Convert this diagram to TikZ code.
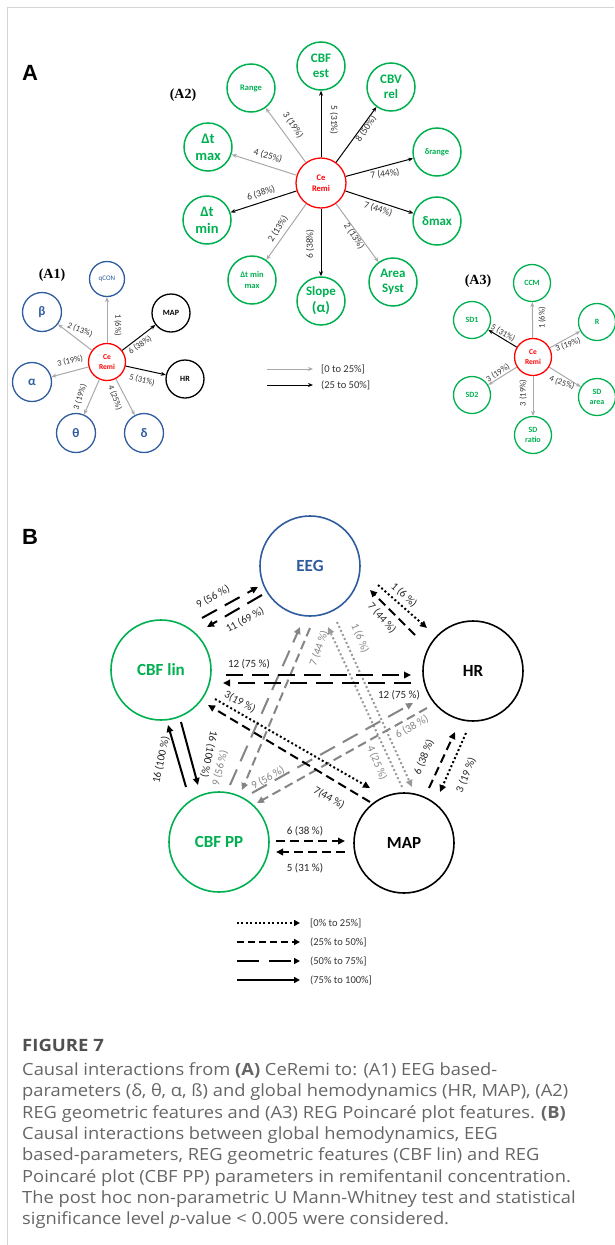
\documentclass[tikz,border=0pt]{standalone}
\usepackage{fontspec}
\setmainfont{Carlito}
\newfontfamily\capfont[FakeStretch=1.09]{Open Sans}
\newfontfamily\serfont{Liberation Serif}
\newfontfamily\hdfont{Liberation Sans}
\usetikzlibrary{arrows.meta,calc}
\definecolor{cgreen}{HTML}{00B050}
\definecolor{cred}{HTML}{FF0000}
\definecolor{cblue}{HTML}{2E5C9E}
\definecolor{agray}{HTML}{A9A9A9}
\definecolor{bgray}{HTML}{858585}
\definecolor{dgray}{HTML}{9A9A9A}
\definecolor{captxt}{HTML}{666666}
\definecolor{capttl}{HTML}{505050}
\definecolor{framec}{HTML}{D4D4D4}
\newcommand{\fsz}[1]{\fontsize{#1}{#1}\selectfont}
\tikzset{
  every node/.style={inner sep=0pt},
  remiA/.style={circle,draw=cred,line width=1.3pt,text=cred,font=\bfseries\fontsize{8.5}{10.5}\selectfont,align=center,minimum size=50pt},
  remiS/.style={circle,draw=cred,line width=1.3pt,text=cred,font=\bfseries\fontsize{7.5}{9.5}\selectfont,align=center,minimum size=37pt},
  gtwo/.style={circle,draw=cgreen,line width=1.5pt,minimum size=48pt,text=cgreen,font=\bfseries\fontsize{13}{15.5}\selectfont,align=center},
  gthree/.style={circle,draw=cgreen,line width=1.3pt,minimum size=37pt,text=cgreen,font=\bfseries\fontsize{8}{10}\selectfont,align=center},
  bone/.style={circle,draw=cblue,line width=1.3pt,minimum size=39pt,text=cblue,font=\bfseries\fsz{13}},
  kone/.style={circle,draw=black,line width=1.3pt,minimum size=38pt,text=black,font=\bfseries\fsz{8}},
  aab/.style={-{Stealth[length=5pt,width=4pt]},line width=1pt,draw=black},
  aag/.style={-{Stealth[length=5pt,width=4pt]},line width=1pt,draw=agray},
  lab/.style={font=\fsz{8.5},text=black!80},
  bn/.style={circle,draw=black,line width=1.6pt,minimum size=100pt,font=\bfseries\fsz{17}},
  bar/.style={-{Triangle[length=7pt,width=6.5pt]},line width=2pt},
  dotb/.style={dash pattern=on 2pt off 2.4pt},
  dsh/.style={dash pattern=on 9pt off 5pt},
  ldsh/.style={dash pattern=on 17pt off 9pt},
  blab/.style={font=\fsz{11},text=black!85},
  glab/.style={font=\fsz{11},text=bgray},
  ltxt/.style={font=\fsz{10.5},text=black!80,anchor=west},
  captext/.style={font=\capfont\fsz{16.8},text=captxt,anchor=base west}
}
\begin{document}
\begin{tikzpicture}[x=1pt,y=-1pt]
\useasboundingbox (0,0) rectangle (614,1245);
\draw[framec,line width=1pt] (7,1245) -- (7,7) -- (614,7);

% ---------- Panel A ----------
\node[font=\hdfont\bfseries\fsz{22}] (labA) at (30,73) {A};
\node[font=\serfont\bfseries\fsz{14}] (labA2) at (183,95) {(A2)};
\node[font=\serfont\bfseries\fsz{14}] (labA1) at (52,275) {(A1)};
\node[font=\serfont\bfseries\fsz{14}] (labA3) at (478,281) {(A3)};

% A2
\node[remiA] (c2) at (321,183) {Ce\\Remi};
\node[gtwo] (cbfest) at (321,66) {CBF\\est};
\node[gtwo,font=\bfseries\fsz{8.5}] (range) at (251,88) {Range};
\node[gtwo] (cbvrel) at (391,87) {CBV\\rel};
\node[gtwo,font=\bfseries\fsz{8.5}] (drange) at (437,152) {δrange};
\node[gtwo] (dmax) at (437,221) {δmax};
\node[gtwo] (area) at (393,282) {Area\\Syst};
\node[gtwo,font=\bfseries\fontsize{13}{17}\selectfont] (slope) at (321,301) {Slope\\\fsz{15}(α)};
\node[gtwo,font=\bfseries\fontsize{8.5}{11.5}\selectfont] (dtmm) at (252,280) {Δt min\\max};
\node[gtwo,font=\bfseries\fontsize{14.5}{17}\selectfont] (dtmin) at (207,220) {Δt\\min};
\node[gtwo,font=\bfseries\fontsize{14.5}{17}\selectfont] (dtmax) at (208,147) {Δt\\max};

\draw[aab] (c2) -- (cbfest);
\draw[aag] (c2) -- (range);
\draw[aab] (c2) -- (cbvrel);
\draw[aab] (c2) -- (drange);
\draw[aab] (c2) -- (dmax);
\draw[aag] (c2) -- (area);
\draw[aab] (c2) -- (slope);
\draw[aag] (c2) -- (dtmm);
\draw[aab] (c2) -- (dtmin);
\draw[aag] (c2) -- (dtmax);

\node[lab,font=\fsz{9.5},rotate=-90] (l2a) at (334,120) {5 (31\%)};
\node[lab,font=\fsz{9.5},rotate=-57] (l2b) at (293,125) {3 (19\%)};
\node[lab,font=\fsz{9.5},rotate=56] (l2c) at (366,129) {8 (50\%)};
\node[lab,font=\fsz{9.5},rotate=-16] (l2d) at (268,156) {4 (25\%)};
\node[lab,font=\fsz{9.5},rotate=8] (l2e) at (385,174) {7 (44\%)};
\node[lab,font=\fsz{9.5},rotate=-18] (l2f) at (378,209) {7 (44\%)};
\node[lab,font=\fsz{9.5},rotate=18] (l2g) at (261,193) {6 (38\%)};
\node[lab,font=\fsz{9.5},rotate=58] (l2h) at (278,229) {2 (13\%)};
\node[lab,font=\fsz{9.5},rotate=90] (l2i) at (310,244) {6 (38\%)};
\node[lab,font=\fsz{9.5},rotate=-57] (l2j) at (354,236) {2 (13\%)};

% A1
\node[remiS] (c1) at (107,362) {Ce\\Remi};
\node[bone,minimum size=35pt,font=\fsz{7}] (qcon) at (107,279) {qCON};
\node[bone] (beta) at (42,312) {β};
\node[bone] (alpha) at (32,382) {α};
\node[bone] (theta) at (76,433) {θ};
\node[bone] (delta) at (144,433) {δ};
\node[kone] (map1) at (171,313) {MAP};
\node[kone] (hr1) at (185,379) {HR};

\draw[aag] (c1) -- (qcon);
\draw[aag] (c1) -- (beta);
\draw[aag] (c1) -- (alpha);
\draw[aag] (c1) -- (theta);
\draw[aag] (c1) -- (delta);
\draw[aab] (c1) -- (map1);
\draw[aab] (c1) -- (hr1);

\node[lab,rotate=-90] (l1a) at (118,325) {1 (6\%)};
\node[lab,rotate=-22] (l1b) at (80,330) {2 (13\%)};
\node[lab,rotate=12] (l1c) at (70,361) {3 (19\%)};
\node[lab,rotate=72] (l1d) at (80,397) {3 (19\%)};
\node[lab,rotate=-70] (l1e) at (115,398) {4 (25\%)};
\node[lab,rotate=35] (l1f) at (140,345) {6 (38\%)};
\node[lab,rotate=-15] (l1g) at (142,380) {5 (31\%)};

% A3
\node[remiS] (c3) at (533,357) {Ce\\Remi};
\node[gthree] (ccm) at (532,283) {CCM};
\node[gthree] (sd1) at (472,320) {SD1};
\node[gthree] (rr) at (597,322) {R};
\node[gthree] (sd2) at (472,395) {SD2};
\node[gthree] (sdarea) at (597,397) {SD\\area};
\node[gthree] (sdratio) at (533,435) {SD\\ratio};

\draw[aag] (c3) -- (ccm);
\draw[aab] (c3) -- (sd1);
\draw[aag] (c3) -- (rr);
\draw[aag] (c3) -- (sd2);
\draw[aag] (c3) -- (sdarea);
\draw[aag] (c3) -- (sdratio);

\node[lab,rotate=90] (l3a) at (542,318) {1 (6\%)};
\node[lab,rotate=-30] (l3b) at (503,333) {5 (31\%)};
\node[lab,rotate=20] (l3c) at (568,345) {3 (19\%)};
\node[lab,rotate=33] (l3d) at (498,373) {3 (19\%)};
\node[lab,rotate=90] (l3e) at (523,393) {3 (19\%)};
\node[lab,rotate=-20] (l3f) at (562,383) {4 (25\%)};

% Legend A
\coordinate (la1) at (267,369); \coordinate (la2) at (313,369);
\coordinate (lb1) at (267,385); \coordinate (lb2) at (313,385);
\draw[aag] (la1) -- (la2);
\draw[aab] (lb1) -- (lb2);
\node[ltxt] (lta) at (321,369) {[0 to 25\%]};
\node[ltxt] (ltb) at (321,385) {(25 to 50\%]};

% ---------- Panel B ----------
\node[font=\hdfont\bfseries\fsz{22}] (labB) at (30,537) {B};

\node[bn,draw=cblue,text=cblue] (eeg) at (310,566) {EEG};
\node[bn,draw=cgreen,text=cgreen] (lin) at (161,670) {CBF lin};
\node[bn] (hr) at (473,671) {HR};
\node[bn,draw=cgreen,text=cgreen] (pp) at (219,842) {CBF PP};
\node[bn] (map) at (404,843) {MAP};

% gray connectors
\draw[bar,ldsh,bgray] ($(pp)+(11,-57)$) -- ($(eeg)+(-10,61)$);
\draw[bar,dsh,bgray] ($(eeg)+(0,62)$) -- ($(pp)+(23,-52)$);
\draw[bar,dotb,dgray] ($(map)+(-2,-56)$) -- ($(eeg)+(18,61)$);
\draw[bar,dotb,dgray] ($(eeg)+(27,56)$) -- ($(map)+(8,-56)$);
\draw[bar,ldsh,bgray] ($(pp)+(33,-49)$) -- ($(hr)+(-60,32)$);
\draw[bar,dsh,bgray] ($(hr)+(-46,37)$) -- ($(pp)+(38,-39)$);

% black connectors
\draw[bar,ldsh] ($(lin)+(41,-52)$) -- ($(eeg)+(-52,21)$);
\draw[bar,ldsh] ($(eeg)+(-48,29)$) -- ($(lin)+(46,-43)$);
\draw[bar,dotb] ($(eeg)+(68,19)$) -- ($(hr)+(-46,-43)$);
\draw[bar,dsh] ($(hr)+(-58,-36)$) -- ($(eeg)+(60,24)$);
\draw[bar,ldsh] ($(lin)+(65,5)$) -- ($(hr)+(-62,4)$);
\draw[bar,ldsh] ($(hr)+(-62,12)$) -- ($(lin)+(62,13)$);
\draw[bar,dsh] ($(map)+(-34,-41)$) -- ($(lin)+(47,35)$);
\draw[bar,dotb] ($(lin)+(54,29)$) -- ($(map)+(-34,-55)$);
\draw[bar] ($(pp)+(-33,-55)$) -- ($(lin)+(7,55)$);
\draw[bar] ($(lin)+(20,52)$) -- ($(pp)+(-21,-57)$);
\draw[bar,dsh] ($(pp)+(57,-1)$) -- ($(map)+(-59,-2)$);
\draw[bar,dsh] ($(map)+(-59,9)$) -- ($(pp)+(57,10)$);
\draw[bar,dsh] ($(map)+(25,-55)$) -- ($(hr)+(-18,61)$);
\draw[bar,dotb] ($(hr)+(-7,62)$) -- ($(map)+(36,-51)$);

\node[blab,rotate=29] (t1) at (213,597) {9 (56 \%)};
\node[blab,rotate=29] (t2) at (245,620) {11 (69 \%)};
\node[blab,rotate=-42] (t3) at (404,595) {1 (6 \%)};
\node[blab,rotate=-48] (t4) at (382,618) {7 (44 \%)};
\node[blab] (t5) at (249,664) {12 (75 \%)};
\node[blab] (t6) at (399,695) {12 (75 \%)};
\node[blab,rotate=-28] (t7) at (240,702) {3(19 \%)};
\node[blab,rotate=-30] (t8) at (329,798) {7(44 \%)};
\node[blab,rotate=78] (t9) at (161,760) {16 (100 \%)};
\node[blab,rotate=-102] (t10) at (209,754) {16 (100 \%)};
\node[blab] (t11) at (305,831) {6 (38 \%)};
\node[blab] (t12) at (305,868) {5 (31 \%)};
\node[blab,rotate=68] (t13) at (424,757) {6 (38 \%)};
\node[blab,rotate=68] (t14) at (466,775) {3 (19 \%)};
\node[glab,rotate=76] (t15) at (220,768) {9 (56 \%)};
\node[glab,rotate=70] (t16) at (319,648) {7 (44 \%)};
\node[glab,rotate=-68] (t17) at (360,638) {1 (6 \%)};
\node[glab,rotate=-68] (t18) at (377,763) {4 (25 \%)};
\node[glab,rotate=30] (t19) at (268,778) {9 (56 \%)};
\node[glab,rotate=30] (t20) at (412,727) {6 (38 \%)};

% Legend B
\coordinate (m1a) at (237,923); \coordinate (m1b) at (300,923);
\coordinate (m2a) at (237,942); \coordinate (m2b) at (300,942);
\coordinate (m3a) at (237,961); \coordinate (m3b) at (300,961);
\coordinate (m4a) at (237,980); \coordinate (m4b) at (300,980);
\draw[bar,dotb,-{Triangle[length=6pt,width=6pt]}] (m1a) -- (m1b);
\draw[bar,dash pattern=on 7pt off 4pt,-{Triangle[length=6pt,width=6pt]}] (m2a) -- (m2b);
\draw[bar,dash pattern=on 22pt off 10pt,-{Triangle[length=6pt,width=6pt]}] (m3a) -- (m3b);
\draw[bar,-{Triangle[length=6pt,width=6pt]}] (m4a) -- (m4b);
\node[ltxt] (n1) at (310,923) {[0\% to 25\%]};
\node[ltxt] (n2) at (310,942) {(25\% to 50\%]};
\node[ltxt] (n3) at (310,961) {(50\% to 75\%]};
\node[ltxt] (n4) at (310,980) {(75\% to 100\%]};

% ---------- Caption ----------
\node[captext,font=\capfont\bfseries\fsz{17},text=capttl] (fig) at (22,1051) {FIGURE 7};
\node[captext] (c1l) at (22,1075.5) {Causal interactions from \textbf{(A)} CeRemi to: (A1) EEG based-};
\node[captext] (c2l) at (22,1096.8) {parameters (δ, θ, α, ß) and global hemodynamics (HR, MAP), (A2)};
\node[captext] (c3l) at (22,1118.1) {REG geometric features and (A3) REG Poincaré plot features. \textbf{(B)}};
\node[captext] (c4l) at (22,1139.4) {Causal interactions between global hemodynamics, EEG};
\node[captext] (c5l) at (22,1160.7) {based-parameters, REG geometric features (CBF lin) and REG};
\node[captext] (c6l) at (22,1182.0) {Poincaré plot (CBF PP) parameters in remifentanil concentration.};
\node[captext] (c7l) at (22,1203.3) {The post hoc non-parametric U Mann-Whitney test and statistical};
\node[captext] (c8l) at (22,1224.6) {significance level \textit{p}-value < 0.005 were considered.};
\end{tikzpicture}
\end{document}
